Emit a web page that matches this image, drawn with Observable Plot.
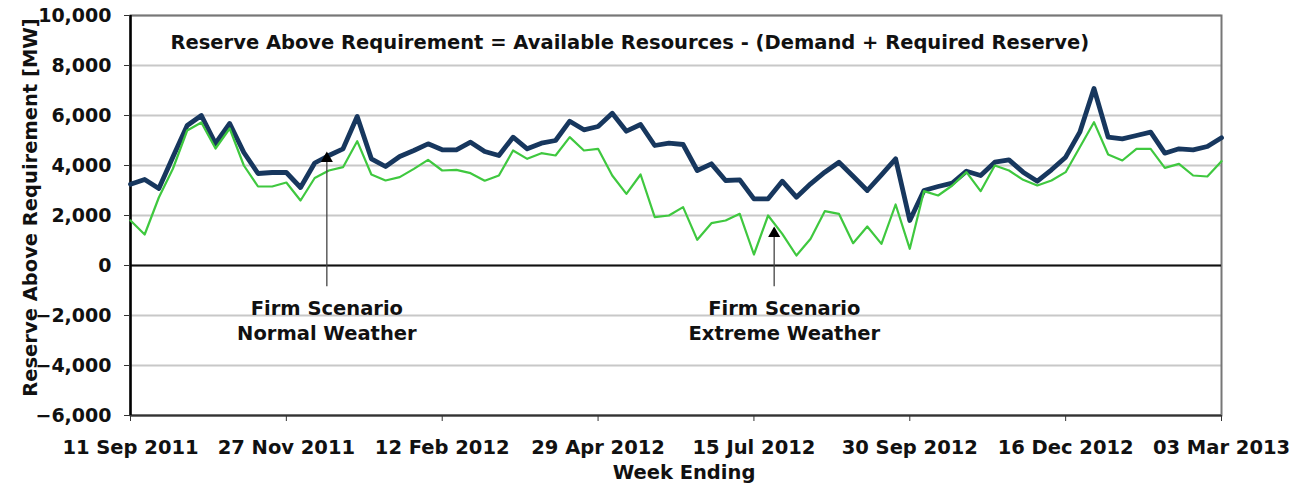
<!DOCTYPE html>
<html><head><meta charset="utf-8">
<script src="https://cdn.jsdelivr.net/npm/d3@7"></script>
<script src="https://cdn.jsdelivr.net/npm/@observablehq/plot@0.6"></script>
<style>
body{margin:0;background:#fff;}
#chart svg{overflow:visible;}
</style>
</head><body><div id="chart"></div>
<script>
// Week-ending dates: weekly from 11 Sep 2011 to 03 Mar 2013
const firstWeekEnding = "2011-09-11";
const lastWeekEnding = "2013-03-03";

// Firm Scenario, Normal Weather (MW)
const normalWeather = [
  3250, 3440, 3080, 4350, 5600, 6000, 4880, 5680, 4520, 3680,
  3720, 3720, 3120, 4100, 4400, 4667, 5960, 4267, 3960, 4360,
  4600, 4867, 4627, 4627, 4933, 4560, 4400, 5133, 4667, 4893,
  5000, 5773, 5427, 5560, 6093, 5373, 5640, 4800, 4893, 4840,
  3800, 4067, 3400, 3427, 2667, 2667, 3373, 2733, 3267, 3733,
  4133, 3570, 3000, 3627, 4267, 1800, 3000, 3160, 3293, 3773,
  3600, 4133, 4227, 3733, 3373, 3827, 4333, 5333, 7080, 5133,
  5067, 5200, 5333, 4493, 4667, 4627, 4760, 5107
];

// Firm Scenario, Extreme Weather (MW)
const extremeWeather = [
  1800, 1240, 2720, 3880, 5400, 5720, 4680, 5480, 4000, 3160,
  3160, 3320, 2600, 3500, 3800, 3933, 4973, 3640, 3400, 3533,
  3867, 4227, 3800, 3827, 3693, 3390, 3600, 4600, 4267, 4493,
  4400, 5133, 4600, 4667, 3600, 2867, 3640, 1933, 2000, 2333,
  1027, 1693, 1800, 2067,  440, 2000, 1267,  400, 1067, 2173,
  2067,  893, 1560,  867, 2440,  667, 2973, 2800, 3200, 3733,
  2973, 4000, 3800, 3427, 3200, 3400, 3733, 4733, 5733, 4440,
  4200, 4667, 4667, 3907, 4067, 3600, 3560, 4173
];

const xTickLabels = ["2011-09-11","2011-11-27","2012-02-12","2012-04-29","2012-07-15","2012-09-30","2012-12-16","2013-03-03"];
const yTickValues = [-6000,-4000,-2000,0,2000,4000,6000,8000,10000];

const titleText = "Reserve Above Requirement = Available Resources - (Demand + Required Reserve)";
const yLabel = "Reserve Above Requirement [MW]";
const xLabel = "Week Ending";

// annotations
const annotNames = ["Firm Scenario\nNormal Weather", "Firm Scenario\nExtreme Weather"];
const annotDates = ["2011-12-17", "2012-07-25"];
const annotTips = [4480, 1480];
const annotTails = [-850, -850];
const annotTextDates = ["2011-12-17", "2012-07-30"];

const parse = d => new Date(d + "T00:00:00Z");
const start = parse(firstWeekEnding);
const weeks = normalWeather.map((_, i) => d3.utcWeek.offset(start, i));
const rowsN = weeks.map((d, i) => ({date: d, value: normalWeather[i]}));
const rowsX = weeks.map((d, i) => ({date: d, value: extremeWeather[i]}));
const annots = annotNames.map((t, i) => ({
  text: t, date: parse(annotDates[i]), tip: annotTips[i], tail: annotTails[i], tdate: parse(annotTextDates[i])
}));

const FONT = "DejaVu Sans, Verdana, sans-serif";
const ink = "#111";
const FS = 19.5;

const chart = Plot.plot({
  width: 1309,
  height: 488,
  marginLeft: 130,
  marginRight: 88,
  marginTop: 15,
  marginBottom: 73,
  style: {fontFamily: FONT, fontSize: FS + "px", fontWeight: "bold", color: ink, background: "#fff"},
  x: {type: "utc", domain: [parse(firstWeekEnding), parse(lastWeekEnding)]},
  y: {domain: [-6000, 10000]},
  marks: [
    Plot.ruleY(yTickValues, {stroke: "#c8c8c8", strokeWidth: 2}),
    Plot.frame({stroke: "#777", strokeWidth: 2}),
    Plot.ruleY([0], {stroke: "#111", strokeWidth: 2.2}),
    Plot.ruleY([-6000], {stroke: "#333", strokeWidth: 2.2}),
    Plot.ruleX([parse(firstWeekEnding)], {stroke: "#000", strokeWidth: 2.5}),
    Plot.axisX({
      ticks: xTickLabels.map(parse),
      tickFormat: d3.utcFormat("%d %b %Y"),
      tickSize: 6, tickPadding: 19, stroke: "#333",
      fontSize: FS, fontWeight: "bold", fill: ink, label: null
    }),
    Plot.axisY({
      ticks: yTickValues, tickFormat: d3.format(","),
      tickSize: 6, tickPadding: 13, stroke: "#333",
      fontSize: 19, fontWeight: "bold", fill: ink, label: null
    }),
    Plot.line(rowsN, {x: "date", y: "value", stroke: "#17375e", strokeWidth: 4.8, strokeLinejoin: "round"}),
    Plot.line(rowsX, {x: "date", y: "value", stroke: "#3fc83f", strokeWidth: 2.2, strokeLinejoin: "round"}),
    Plot.ruleX(annots, {x: "date", y1: "tail", y2: "tip", stroke: "#444", strokeWidth: 1.3}),
    Plot.dot(annots, {x: "date", y: "tip", symbol: "triangle", r: 4.5, dy: 5, fill: "#000", stroke: "none"}),
    Plot.text(annots, {x: "tdate", y: -2150, text: "text", fontSize: FS, fontWeight: "bold", fill: ink, lineHeight: 1.3, lineAnchor: "middle"}),
    Plot.text([titleText], {frameAnchor: "top-left", dx: 40, dy: 27, text: d => d, textAnchor: "start", lineAnchor: "middle", fontSize: FS, fontWeight: "bold", fill: ink}),
    Plot.text([yLabel], {frameAnchor: "left", dx: -100, dy: -8, rotate: -90, textAnchor: "middle", text: d => d, fontSize: FS, fontWeight: "bold", fill: ink}),
    Plot.text([xLabel], {frameAnchor: "bottom", dx: 8, dy: 63, textAnchor: "middle", text: d => d, fontSize: FS, fontWeight: "bold", fill: ink})
  ]
});
document.getElementById("chart").appendChild(chart);
</script>
</body></html>
